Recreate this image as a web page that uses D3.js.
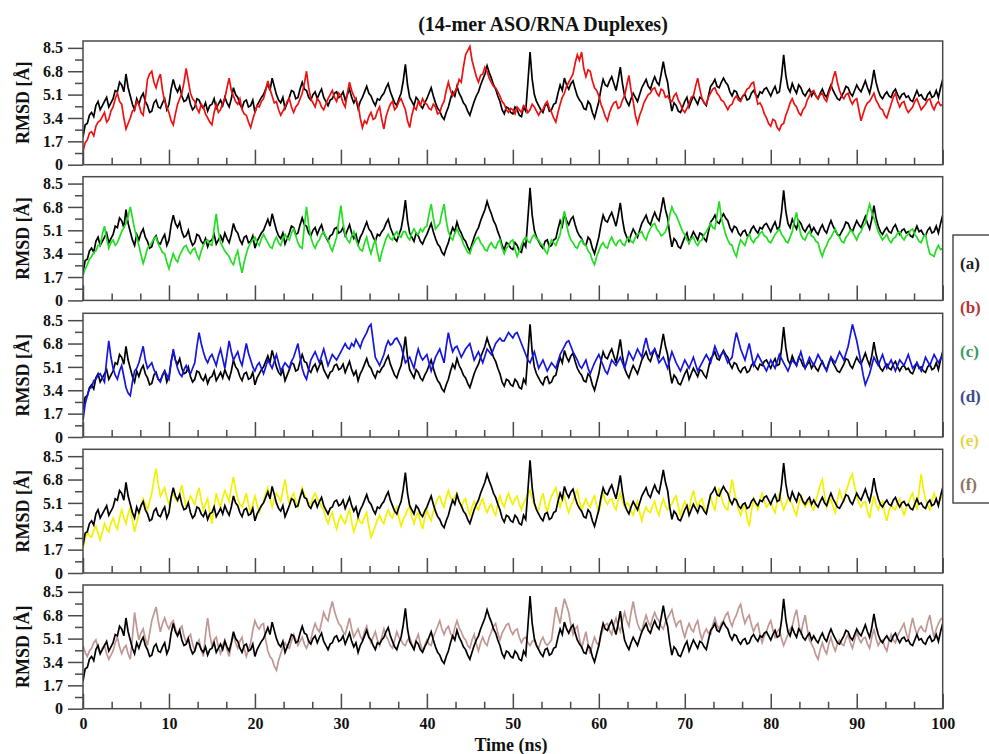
<!DOCTYPE html>
<html>
<head>
<meta charset="utf-8">
<script src="https://cdn.jsdelivr.net/npm/d3@7"></script>
<style>
  html, body { margin: 0; padding: 0; background: #fff; }
  svg { display: block; }
  text { font-family: "Liberation Serif", "Times New Roman", serif; font-weight: bold; }
</style>
</head>
<body>
<svg id="chart" width="989" height="754"></svg>
<script>
// ---------------- DATA ----------------
const title = "(14-mer ASO/RNA Duplexes)";
const xLabel = "Time (ns)";
const yLabel = "RMSD [Å]";
const timeStart = 0, timeStep = 0.25;   // ns, sampling of the series below
const xTicks = [0, 10, 20, 30, 40, 50, 60, 70, 80, 90, 100];
const yTicks = [0, 1.7, 3.4, 5.1, 6.8, 8.5];
const legendLabels = ["(a)", "(b)", "(c)", "(d)", "(e)", "(f)"];
const legendColors = ["#222222", "#b3363a", "#3c9a5e", "#3b4a8c", "#e6d44a", "#8c7264"];
const lineColors = ["#000000", "#ee1111", "#22dd22", "#1515e0", "#f2f200", "#c19793"];

// (a) reference, shown in every panel (one row = 5 ns)
const seriesA = [
  2.0,2.9,3.0,3.6,3.8,3.5,4.3,4.6,4.0,4.3,4.6,4.9,4.2,4.5,4.8,5.4,5.3,6.0,5.8,5.3,
  6.6,5.6,5.0,4.4,4.0,4.8,4.4,4.9,5.2,4.6,4.3,3.8,3.9,4.5,4.7,4.2,4.1,4.5,4.8,4.0,
  4.4,5.5,6.2,5.6,5.3,5.7,5.0,4.6,4.7,5.1,4.4,4.0,4.2,4.8,4.7,4.3,4.1,4.5,3.9,4.3,
  4.4,4.8,4.1,4.4,4.7,4.3,4.9,4.5,4.2,4.8,5.6,5.1,4.9,4.4,4.1,4.6,4.7,4.2,4.3,4.7,
  3.8,4.3,4.6,4.9,5.1,5.5,5.9,5.4,6.3,5.7,5.1,4.7,4.5,4.9,4.1,4.5,4.9,5.4,5.3,4.8,
  4.9,5.5,6.0,5.5,5.4,4.9,4.7,5.1,5.3,4.8,5.2,5.5,4.9,4.6,4.3,4.7,4.8,5.2,5.3,4.9,
  5.0,5.3,4.7,5.1,5.5,4.9,4.5,4.8,4.1,4.6,4.9,5.3,5.7,5.2,5.0,4.6,4.3,4.8,4.7,5.0,
  5.2,5.6,5.9,5.3,4.9,4.5,4.3,4.8,5.2,6.1,7.3,5.8,4.9,4.6,4.3,4.9,4.7,4.3,4.1,4.5,
  4.8,5.2,5.6,5.0,4.5,4.1,3.9,3.5,3.3,3.8,4.2,4.8,5.3,5.0,5.7,5.2,4.9,4.5,4.3,3.9,
  3.6,4.1,4.6,5.0,5.3,5.8,6.2,6.6,7.2,6.7,6.3,5.8,5.5,5.0,4.6,4.0,3.7,4.2,4.1,3.8,
  3.7,4.2,4.0,3.6,3.5,4.2,3.9,6.0,8.2,6.2,5.1,4.6,4.3,4.0,3.8,4.3,4.4,3.9,4.0,4.4,
  4.5,5.2,5.8,5.4,6.3,5.8,5.5,5.9,6.1,5.5,5.0,4.7,4.5,4.1,4.0,4.6,4.4,3.8,3.4,4.0,
  4.6,5.5,6.2,5.8,5.7,6.1,6.4,5.9,5.4,6.2,7.1,5.9,5.0,4.6,4.3,4.8,5.2,4.9,4.6,5.1,
  5.6,5.9,6.2,5.7,5.5,6.0,6.4,6.0,5.8,6.6,7.5,6.6,6.0,4.8,3.9,4.5,4.3,3.9,3.8,4.2,
  4.6,4.9,4.2,4.6,5.0,4.7,4.4,4.9,4.8,4.5,4.3,5.0,5.7,5.9,6.2,5.7,5.6,6.0,6.3,6.0,
  5.8,5.3,5.0,5.4,5.3,4.9,4.7,5.0,5.1,4.7,4.8,5.2,5.4,5.1,4.9,5.3,5.2,5.5,5.6,5.3,
  5.0,5.4,5.7,5.2,5.3,6.4,8.0,6.5,5.6,5.3,5.9,5.5,5.2,5.8,5.6,5.2,5.0,5.3,5.5,5.0,
  5.3,5.0,4.8,5.2,5.5,5.1,4.9,5.4,5.8,5.4,5.1,4.8,4.7,5.0,5.3,5.7,5.6,5.2,5.0,5.4,
  5.8,5.5,5.3,5.7,6.1,5.6,5.2,5.9,6.9,6.0,5.4,5.0,4.8,5.1,5.3,5.0,4.9,5.3,5.5,5.1,
  4.8,5.1,5.2,4.9,5.0,4.7,4.6,5.0,5.4,5.0,5.1,4.8,4.7,5.1,5.3,4.9,5.0,5.4,4.9,5.6,
  6.2
];
const seriesB = [
  1.0,1.6,1.8,2.3,2.4,2.1,2.8,3.1,3.2,3.5,3.8,3.1,3.3,3.9,4.2,4.8,5.2,4.6,4.4,3.4,
  2.6,3.0,3.4,3.9,4.0,4.6,4.4,3.8,3.6,4.8,6.2,6.6,6.8,6.0,5.6,6.2,6.6,5.4,4.6,4.2,
  3.8,3.2,2.9,3.7,4.4,4.8,5.2,6.0,7.0,6.1,5.2,4.8,4.6,4.1,3.8,4.4,4.2,3.7,3.4,3.1,
  2.9,3.8,4.4,3.8,4.0,4.5,4.8,5.6,6.3,5.4,5.0,4.6,4.4,4.8,4.0,3.7,3.6,3.1,2.7,3.3,
  3.8,4.3,4.2,4.6,4.8,5.4,6.1,5.5,5.0,4.5,4.6,4.0,3.6,3.9,4.2,4.6,4.8,4.2,3.8,4.2,
  4.4,4.8,5.2,5.9,6.8,5.6,4.8,4.5,4.2,4.8,4.6,4.2,4.0,4.4,4.8,5.1,5.4,4.9,4.6,5.2,
  5.0,4.5,4.2,5.2,6.0,5.4,5.0,4.7,4.4,3.4,2.7,3.2,3.0,3.5,3.8,3.3,3.4,3.9,4.2,3.3,
  2.6,3.5,4.0,4.4,4.6,4.0,4.2,4.6,4.8,4.4,4.0,3.2,2.7,3.6,4.2,4.0,4.6,4.3,4.8,4.5,
  4.4,4.1,4.0,4.4,4.2,3.7,3.8,4.3,4.6,5.4,6.0,5.4,5.0,5.3,5.6,6.2,6.0,7.1,8.0,8.3,
  8.6,7.6,7.0,6.4,6.0,6.5,6.6,7.1,6.8,6.3,6.0,5.7,5.6,5.3,5.0,4.6,4.4,4.0,3.8,4.1,
  4.0,3.7,4.2,4.0,3.8,4.3,4.2,3.8,4.0,4.4,4.2,3.9,3.6,3.9,4.0,4.4,4.6,4.1,3.8,3.4,
  3.1,3.8,4.4,4.9,5.2,5.7,6.0,6.3,6.6,7.4,8.0,7.6,8.2,7.0,6.4,6.9,6.8,6.1,5.6,5.4,
  5.0,4.4,4.0,3.5,3.2,3.8,4.2,4.5,4.6,4.1,4.2,4.7,5.0,5.8,6.5,5.4,4.6,3.6,3.0,3.6,
  4.0,4.5,4.8,5.1,5.2,5.5,5.6,5.2,5.0,5.5,5.4,4.9,5.0,4.7,4.6,5.0,5.2,4.7,4.4,4.0,
  3.8,4.1,4.4,4.9,5.0,5.7,6.3,5.5,4.8,4.5,4.4,4.9,5.2,5.5,5.6,5.2,5.0,4.7,4.6,4.3,
  4.0,4.3,4.4,4.8,5.0,4.7,4.6,5.0,5.2,5.5,5.6,5.9,6.0,5.1,4.4,4.5,4.2,3.7,3.4,3.0,
  2.8,3.3,3.2,2.7,2.5,2.9,3.0,3.6,4.0,4.5,4.8,4.4,4.2,3.8,3.6,4.0,4.2,4.7,5.0,5.3,
  5.4,5.0,4.8,5.1,5.2,4.8,4.6,5.2,5.6,6.3,6.8,6.0,5.4,5.0,4.8,5.1,5.2,4.7,4.4,4.7,
  4.8,4.0,3.2,3.7,4.2,4.5,4.6,4.9,5.2,4.7,4.4,4.1,4.0,3.6,3.4,3.9,4.4,4.9,5.2,4.6,
  4.2,4.5,4.6,4.1,3.8,4.0,4.2,4.6,4.8,4.4,4.0,4.2,4.4,4.7,4.8,4.3,4.0,4.4,4.6,4.3,
  4.4
];
const seriesC = [
  1.8,2.3,2.6,3.0,3.2,3.5,3.6,4.0,4.0,4.8,5.4,4.5,3.8,4.2,4.4,4.0,4.2,4.6,5.0,5.3,
  5.6,6.1,6.8,6.0,5.2,4.6,4.0,3.3,2.7,3.2,3.8,4.0,4.2,4.5,4.6,4.1,3.8,3.5,3.4,2.8,
  2.3,2.9,3.4,3.0,2.8,3.3,3.6,3.9,4.0,3.6,3.4,3.7,3.8,3.3,3.0,3.6,4.0,4.3,4.4,4.1,
  4.0,5.2,6.3,5.0,4.2,3.9,3.6,3.4,3.2,2.8,2.6,3.2,3.6,2.7,2.0,2.8,3.4,3.9,4.2,4.4,
  4.6,4.2,4.0,4.5,4.8,4.5,4.2,3.9,3.8,4.3,4.6,4.2,4.0,4.5,4.8,4.5,4.4,4.9,5.2,4.7,
  4.2,3.9,3.8,5.4,6.8,5.5,4.6,4.1,3.8,4.2,4.4,4.8,5.0,4.6,4.4,3.9,3.6,4.1,4.6,5.8,
  6.9,5.6,4.8,4.4,4.2,4.7,5.0,4.4,4.0,3.7,3.6,4.2,4.6,3.9,3.4,4.0,4.4,3.5,2.8,3.5,
  4.0,4.5,4.8,4.5,4.4,4.8,5.0,4.7,4.6,5.0,5.0,4.6,4.4,4.9,5.2,4.9,4.8,5.2,5.0,5.3,
  5.4,6.3,7.0,6.0,5.2,5.4,5.6,6.4,7.0,5.8,5.0,4.6,4.4,4.9,5.2,4.8,4.6,4.1,3.8,3.5,
  3.4,3.9,4.2,4.5,4.6,4.2,4.0,3.7,3.6,4.0,4.2,3.9,3.8,4.2,4.4,3.8,3.4,3.8,4.0,4.3,
  4.4,3.7,3.2,3.6,4.0,4.4,4.6,4.3,4.2,4.6,4.8,4.5,4.4,4.1,4.0,3.6,3.4,4.0,4.4,4.2,
  4.0,4.4,4.8,5.8,6.5,5.5,4.8,4.4,4.2,3.9,3.8,4.2,4.4,4.1,4.0,3.6,3.4,2.9,2.6,3.2,
  3.6,4.0,4.2,3.9,3.8,4.3,4.6,4.2,4.0,4.3,4.4,4.1,4.0,4.4,4.6,4.3,4.2,4.6,4.8,4.9,
  5.0,4.6,4.4,4.9,5.2,5.5,5.6,5.2,5.0,4.7,4.8,5.0,5.4,6.2,6.8,6.4,6.2,5.8,5.4,5.0,
  4.8,4.4,4.2,4.5,4.6,4.2,4.0,4.3,4.4,4.8,5.0,5.3,5.6,5.3,5.2,6.2,7.2,6.0,5.4,4.8,
  4.4,4.1,4.0,3.5,3.2,3.9,4.4,4.2,4.0,4.5,4.8,4.4,4.2,4.5,4.6,4.9,5.0,4.7,4.6,4.3,
  4.2,4.5,4.8,5.0,5.2,4.8,4.6,4.3,4.2,4.6,5.0,5.8,6.4,5.5,4.8,4.5,4.4,4.8,5.0,4.7,
  4.6,4.3,4.2,3.6,3.2,3.7,4.0,4.4,4.6,4.9,5.2,4.8,4.6,4.3,4.2,4.6,4.8,5.1,5.0,4.7,
  4.4,4.8,5.0,5.4,5.6,6.4,7.0,6.4,6.0,5.5,5.0,4.7,4.4,4.6,4.8,4.4,4.2,4.5,4.6,4.9,
  5.0,4.6,4.4,4.7,4.8,5.1,5.2,4.8,4.6,4.3,4.2,4.6,4.8,4.0,3.4,3.3,3.2,3.7,4.0,3.7,
  3.8
];
const seriesD = [
  1.2,2.4,3.0,3.5,3.6,4.1,4.2,4.5,4.6,4.3,4.0,5.6,7.0,5.8,5.0,4.5,4.2,4.8,5.2,4.4,
  3.6,3.2,3.0,4.0,4.8,5.0,5.4,6.0,6.6,5.6,5.0,5.2,5.4,4.9,4.6,4.2,4.0,4.5,4.8,4.5,
  4.2,5.4,6.4,5.6,5.0,4.6,4.4,4.9,5.2,4.8,4.6,5.0,5.4,6.6,7.6,6.8,6.2,5.7,5.4,5.8,
  6.0,5.6,5.2,5.9,6.4,5.7,5.0,6.0,7.0,6.2,5.6,5.9,6.2,5.6,5.2,6.0,6.8,6.1,5.6,5.1,
  4.8,5.2,5.4,5.0,4.6,5.1,5.6,5.3,5.0,5.5,6.0,5.4,4.8,5.1,5.4,5.2,5.0,5.5,5.8,6.3,
  6.8,5.8,5.0,4.5,4.2,4.9,5.6,5.9,6.2,5.8,5.4,5.9,6.4,5.8,5.2,5.6,6.0,5.8,5.6,5.9,
  6.2,6.5,6.8,6.5,6.4,6.8,6.6,7.1,6.8,6.5,7.0,7.3,7.6,8.0,8.2,7.0,5.8,5.5,5.2,5.6,
  6.0,6.6,7.0,6.7,6.8,7.1,7.2,6.9,6.6,6.0,5.4,5.6,5.8,5.4,5.0,5.8,6.4,5.9,5.6,5.8,
  6.0,5.4,4.8,5.3,5.8,6.1,6.4,5.9,5.4,6.6,7.6,6.8,6.2,6.5,6.6,6.2,5.8,6.1,6.4,6.6,
  6.8,6.2,5.6,5.9,6.2,5.8,5.4,5.9,6.4,6.2,6.0,6.4,6.8,7.0,7.2,7.0,7.0,7.3,7.6,7.4,
  7.2,7.5,7.6,7.2,6.8,6.4,6.0,5.6,5.4,5.8,6.2,5.6,5.0,5.3,5.6,5.2,4.8,5.1,5.4,5.2,
  5.0,5.5,6.0,6.3,6.6,6.9,7.0,6.6,6.2,5.9,5.6,5.2,5.0,5.3,5.6,5.0,4.6,5.0,5.4,5.7,
  6.0,5.6,5.2,4.8,4.6,5.1,5.6,5.4,5.2,5.5,5.8,5.4,5.0,5.6,6.2,5.9,5.6,6.0,6.4,6.1,
  5.8,6.6,7.2,6.5,6.0,6.2,6.4,5.9,5.4,5.6,5.8,5.4,5.0,5.6,6.2,5.8,5.4,5.1,4.8,5.2,
  5.6,5.3,5.0,5.4,5.8,5.3,4.8,5.1,5.4,5.7,6.0,5.7,5.4,6.0,6.6,6.2,5.8,6.0,6.2,5.8,
  5.4,5.6,5.8,6.8,7.6,7.0,6.4,6.0,5.6,6.2,6.8,6.0,5.2,5.6,6.0,5.7,5.4,5.1,4.8,5.2,
  5.6,5.3,5.0,5.5,6.0,5.7,5.4,5.1,4.8,5.2,5.6,5.4,5.2,5.7,6.2,5.6,5.0,5.4,5.8,5.5,
  5.2,5.6,6.0,5.7,5.4,5.1,4.8,5.3,5.8,5.6,5.4,5.8,6.2,5.9,5.6,6.1,6.6,7.4,8.2,7.6,
  7.0,6.2,5.4,4.5,3.8,4.2,4.6,5.2,5.8,5.5,5.2,5.6,6.0,5.5,5.0,5.3,5.6,5.2,4.8,5.2,
  5.6,5.4,5.2,5.6,6.0,5.5,5.0,5.2,5.4,5.1,4.8,5.3,5.8,5.5,5.2,5.6,6.0,5.7,5.4,5.7,
  6.0
];
const seriesE = [
  1.8,2.5,3.0,2.7,2.6,3.1,3.4,2.9,2.4,3.0,3.6,3.2,3.0,3.6,4.0,3.5,3.2,4.0,4.6,4.0,
  3.6,4.3,4.8,3.8,3.0,3.7,4.2,4.9,5.4,5.0,4.6,5.2,5.8,6.8,7.6,6.5,5.6,5.9,6.2,5.5,
  5.0,5.5,5.8,5.4,5.2,5.9,6.4,5.5,4.8,5.2,5.6,5.3,5.0,5.7,6.2,5.3,4.6,5.0,5.4,4.4,
  3.6,4.8,5.8,5.2,4.8,5.5,6.0,5.6,5.2,6.2,7.0,6.1,5.4,5.0,4.8,5.3,5.8,5.0,4.4,5.0,
  5.6,5.0,4.4,4.9,5.2,5.8,6.2,5.4,4.8,5.4,5.8,5.5,5.2,6.0,6.8,5.8,5.0,5.5,5.8,5.2,
  4.8,5.6,6.2,5.7,5.4,5.1,5.0,5.5,5.8,5.4,5.2,4.8,4.6,4.0,3.6,4.1,4.4,3.7,3.2,3.8,
  4.2,3.8,3.6,4.2,4.6,3.7,3.0,3.5,4.0,3.7,3.6,4.1,4.4,3.4,2.6,3.0,3.4,3.9,4.2,3.8,
  3.6,4.2,4.6,4.2,4.0,4.5,4.8,4.0,3.4,3.9,4.2,4.6,4.8,4.1,3.6,4.1,4.4,3.7,3.2,4.0,
  4.6,4.1,3.8,4.5,5.0,5.4,5.6,5.1,4.8,5.5,6.0,5.5,5.2,5.6,5.8,5.2,4.8,5.2,5.4,4.7,
  4.2,4.8,5.2,4.8,4.6,5.1,5.4,4.8,4.4,4.8,5.0,4.5,4.2,5.0,5.6,5.1,4.8,5.4,5.8,5.3,
  5.0,5.4,5.6,5.0,4.6,5.1,5.4,5.8,6.0,5.4,5.0,4.7,4.6,5.3,5.8,5.0,4.4,5.1,5.6,5.9,
  6.2,5.4,4.8,5.3,5.6,4.9,4.4,4.9,5.2,5.7,6.0,5.2,4.6,5.0,5.4,5.0,4.8,5.3,5.6,4.9,
  4.4,5.2,5.8,5.3,5.0,5.3,5.4,4.9,4.6,5.3,5.8,5.2,4.8,5.1,5.0,4.5,4.2,4.8,5.2,4.4,
  3.8,4.4,4.8,4.5,4.4,4.9,5.2,4.6,4.2,4.9,5.4,4.9,4.6,4.9,5.0,5.4,5.6,4.8,4.2,4.8,
  5.2,4.8,4.6,5.4,6.0,5.3,4.8,5.2,5.4,4.8,4.4,5.0,5.6,5.0,4.6,5.5,6.2,5.5,5.0,4.7,
  4.6,5.8,6.8,6.0,5.2,4.6,4.2,4.7,5.0,4.0,3.4,4.5,5.4,5.0,4.6,5.3,5.8,5.2,4.8,5.0,
  5.2,4.7,4.4,5.2,5.8,5.1,4.6,5.0,5.4,5.2,5.0,4.5,4.2,5.0,5.6,5.1,4.8,5.1,5.2,4.8,
  4.6,5.3,5.8,6.4,6.8,5.7,4.8,5.2,5.4,4.8,4.4,5.3,6.0,5.5,5.2,5.9,6.4,6.9,7.2,6.3,
  5.6,5.1,4.8,5.1,5.2,4.5,4.0,4.9,5.6,5.0,4.6,5.0,5.2,4.4,3.8,4.5,5.0,4.7,4.6,5.1,
  5.4,4.7,4.2,4.7,5.0,5.5,5.8,5.1,4.6,6.0,7.2,6.1,5.4,4.9,4.6,5.3,5.8,5.3,5.0,5.4,
  5.6
];
const seriesF = [
  4.6,4.1,3.8,4.2,4.4,4.8,5.0,4.4,4.0,4.4,4.6,4.0,3.6,3.9,4.2,4.8,5.2,4.5,4.0,4.4,
  4.6,4.0,3.6,5.2,7.0,5.9,5.0,5.5,5.8,5.1,4.6,5.5,6.4,6.9,7.4,6.4,5.6,6.2,6.6,6.1,
  5.8,6.2,6.4,5.8,5.4,5.8,6.0,5.3,4.8,5.2,5.4,4.7,4.2,4.7,5.0,4.3,3.8,5.4,6.6,5.4,
  4.6,5.0,5.2,4.5,4.0,4.6,5.0,4.3,3.8,4.7,5.4,4.8,4.4,4.9,5.2,4.4,3.8,4.3,4.8,5.7,
  6.4,6.0,5.8,6.1,6.2,5.0,4.2,3.8,3.6,3.1,2.8,3.5,4.0,4.5,4.8,4.5,4.4,4.9,5.4,5.0,
  4.6,4.9,5.2,4.7,4.4,4.8,5.0,5.7,6.2,5.8,5.6,6.3,7.0,6.6,6.4,7.2,7.8,7.1,6.6,6.2,
  6.0,5.6,5.4,6.0,6.6,5.8,5.2,5.5,5.8,5.3,5.0,5.6,6.0,5.3,4.8,5.2,5.6,5.0,4.6,5.2,
  5.8,5.3,5.0,4.6,4.4,5.0,5.6,5.2,5.0,4.7,4.6,5.0,5.2,4.7,4.4,5.0,5.4,4.7,4.2,4.6,
  5.0,4.7,4.6,5.2,5.6,6.0,6.4,5.8,5.4,5.8,6.0,5.5,5.2,5.9,6.4,5.9,5.6,5.2,5.0,4.6,
  4.4,5.0,5.4,4.7,4.2,4.8,5.2,4.8,4.6,5.2,5.6,6.0,6.2,5.5,5.0,5.5,5.8,6.1,6.2,5.7,
  5.4,5.7,5.8,5.2,4.8,5.1,5.2,4.8,4.6,4.9,5.0,4.6,4.4,4.9,5.2,4.8,4.6,4.8,5.0,6.2,
  7.4,6.8,6.2,7.2,8.0,7.5,7.0,6.1,5.4,5.8,6.0,5.1,4.4,5.0,5.6,4.7,4.0,4.7,5.2,4.8,
  4.6,5.3,5.8,6.1,6.2,5.7,5.4,6.1,6.6,6.0,5.6,6.4,7.0,6.4,6.0,7.0,7.8,6.9,6.2,5.8,
  5.6,6.3,6.8,6.3,6.0,6.6,7.0,6.6,6.4,6.0,5.8,6.3,6.6,6.9,7.2,6.5,6.0,6.3,6.4,5.7,
  5.2,5.8,6.2,5.8,5.6,6.1,6.4,5.6,5.0,5.5,5.8,5.5,5.4,6.1,6.6,6.1,5.8,6.2,6.4,6.8,
  7.0,6.4,6.0,6.5,6.8,7.3,7.6,6.8,6.2,6.6,6.8,6.1,5.6,6.0,6.2,5.4,4.8,5.3,5.6,6.1,
  6.4,5.7,5.2,5.6,5.8,5.1,4.6,5.0,5.4,5.8,6.0,6.7,7.2,6.2,5.4,6.2,6.8,5.8,5.0,4.7,
  4.4,3.9,3.6,4.3,4.8,4.3,4.0,4.7,5.2,4.6,4.2,4.7,5.0,4.7,4.6,5.1,5.4,4.8,4.4,5.0,
  5.6,5.1,4.8,5.1,5.2,4.7,4.4,5.2,5.8,5.1,4.6,4.9,5.0,4.5,4.2,4.9,5.4,5.0,4.8,5.3,
  5.6,5.9,6.2,5.5,5.0,5.9,6.6,5.9,5.4,5.8,6.0,5.7,5.6,6.3,6.8,5.9,5.2,5.8,6.2,6.5,
  6.6
];
const panelSeries = [seriesB, seriesC, seriesD, seriesE, seriesF];
const panelColorIndex = [1, 2, 3, 4, 5];
const blackOnTop = [false, false, false, true, true];

// ---------------- LAYOUT ----------------
const svg = d3.select("#chart");
const left = 83, right = 942.7;
const panelTops = [41, 176.7, 313.3, 449.3, 585];
const panelH = 123.7;
const frameColor = "#4a4a4a";
const serif = '"Liberation Serif", "Times New Roman", serif';
const lineWidth = 1.7;

const x = d3.scaleLinear().domain([0, 100]).range([left, right]);
const toPts = arr => arr.map((v, i) => [timeStart + i * timeStep, v]);

svg.append("text")
  .attr("x", 543).attr("y", 31)
  .attr("text-anchor", "middle")
  .attr("font-size", 20)
  .attr("fill", "#111")
  .text(title);

panelTops.forEach((top, p) => {
  const y = d3.scaleLinear().domain([0, 9]).range([top + panelH, top]);
  const g = svg.append("g");

  const line = d3.line().x(d => x(d[0])).y(d => y(d[1]));
  const clipId = "clip" + p;
  svg.append("clipPath").attr("id", clipId)
    .append("rect").attr("x", left).attr("y", top).attr("width", right - left).attr("height", panelH);

  const lg = g.append("g").attr("clip-path", `url(#${clipId})`);
  const drawBlack = () => lg.append("path").datum(toPts(seriesA))
    .attr("d", line).attr("fill", "none").attr("stroke", lineColors[0])
    .attr("stroke-width", lineWidth).attr("stroke-linejoin", "miter");
  const drawColor = () => lg.append("path").datum(toPts(panelSeries[p]))
    .attr("d", line).attr("fill", "none").attr("stroke", lineColors[panelColorIndex[p]])
    .attr("stroke-width", lineWidth).attr("stroke-linejoin", "miter");
  if (blackOnTop[p]) { drawColor(); drawBlack(); } else { drawBlack(); drawColor(); }

  // frame
  g.append("rect")
    .attr("x", left).attr("y", top).attr("width", right - left).attr("height", panelH)
    .attr("fill", "none").attr("stroke", frameColor).attr("stroke-width", 1.5);

  // y axis (outward ticks, major + minor)
  const yMinor = d3.range(0.85, 8.5, 1.7);
  const yAxis = d3.axisLeft(y).tickValues(yTicks).tickSize(15).tickPadding(5)
    .tickFormat(d => d === 0 ? "0" : d3.format(".1f")(d));
  const ya = g.append("g").attr("transform", `translate(${left},0)`).call(yAxis);
  ya.select(".domain").remove();
  ya.selectAll("line").attr("stroke", frameColor).attr("stroke-width", 1.5);
  ya.selectAll("text").attr("font-size", 16).attr("fill", "#111")
    .attr("font-family", serif).attr("font-weight", "bold");
  const yam = g.append("g").attr("transform", `translate(${left},0)`)
    .call(d3.axisLeft(y).tickValues(yMinor).tickSize(8).tickFormat(""));
  yam.select(".domain").remove();
  yam.selectAll("line").attr("stroke", frameColor).attr("stroke-width", 1.5);

  // x axis (inward ticks)
  const xMinor = d3.range(0, 100.01, 10 / 3).filter(v => Math.abs(v / 10 - Math.round(v / 10)) > 0.01);
  const xa = g.append("g").attr("transform", `translate(0,${top + panelH})`)
    .call(d3.axisTop(x).tickValues(xTicks).tickSize(15).tickFormat(""));
  xa.select(".domain").remove();
  xa.selectAll("line").attr("stroke", frameColor).attr("stroke-width", 1.5);
  const xam = g.append("g").attr("transform", `translate(0,${top + panelH})`)
    .call(d3.axisTop(x).tickValues(xMinor).tickSize(7).tickFormat(""));
  xam.select(".domain").remove();
  xam.selectAll("line").attr("stroke", frameColor).attr("stroke-width", 1.5);

  if (p === panelTops.length - 1) {
    const xl = g.append("g").attr("transform", `translate(0,${top + panelH})`)
      .call(d3.axisBottom(x).tickValues(xTicks).tickSize(0).tickPadding(9));
    xl.select(".domain").remove();
    xl.selectAll("text").attr("font-size", 16).attr("fill", "#111")
      .attr("font-family", serif).attr("font-weight", "bold");
  }

  // y label
  svg.append("text")
    .attr("transform", `translate(29,${top + panelH / 2}) rotate(-90)`)
    .attr("text-anchor", "middle")
    .attr("font-size", 18).attr("fill", "#111")
    .text(yLabel);
});

svg.append("text")
  .attr("x", 511).attr("y", 751)
  .attr("text-anchor", "middle")
  .attr("font-size", 18).attr("fill", "#111")
  .text(xLabel);

// legend
const lgd = svg.append("g");
lgd.append("rect").attr("x", 953).attr("y", 235).attr("width", 60).attr("height", 268)
  .attr("fill", "#fff").attr("stroke", "#333").attr("stroke-width", 1.3);
legendLabels.forEach((lab, i) => {
  lgd.append("text")
    .attr("x", 960).attr("y", 269 + i * 44.2)
    .attr("font-size", 17).attr("fill", legendColors[i])
    .text(lab);
});
</script>
</body>
</html>
